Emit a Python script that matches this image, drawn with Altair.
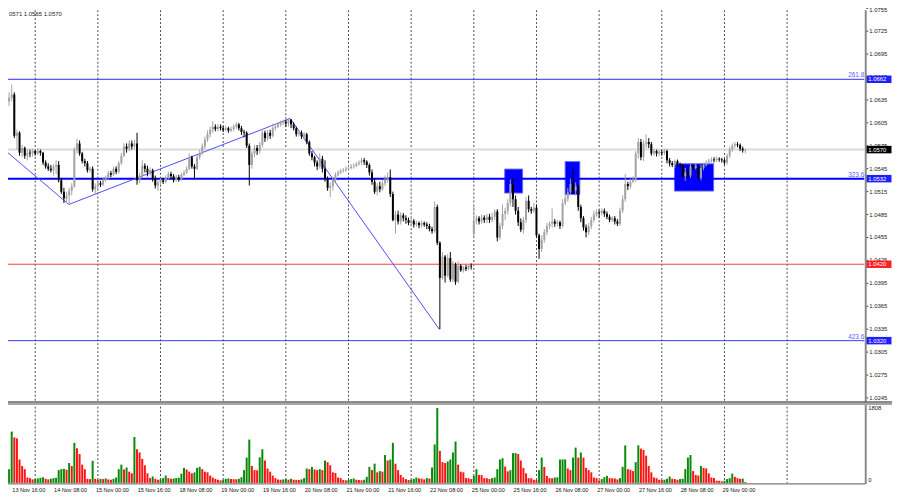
import altair as alt
import pandas as pd

# ---------------- data (EURUSD H1). prices in pips above 1.0000: (open, high, low, close)
DAYS = ["13 Nov", "14 Nov", "15 Nov", "18 Nov", "19 Nov", "20 Nov", "21 Nov",
        "22 Nov", "25 Nov", "26 Nov", "27 Nov", "28 Nov", "29 Nov"]
FIRST_HOUR = [13, 0, 0, 0, 0, 0, 0, 0, 0, 0, 0, 0, 0]

NOV13 = [(616,640,612,633),(633,645,627,638),(638,655,633,642),(642,645,585,588),(588,596,570,592),
         (592,594,562,566),(566,576,560,572),(572,574,558,562),(562,570,556,566),(566,570,560,565),
         (565,571,561,568)]
NOV14 = [(568,570,562,565),(565,572,563,568),(568,570,562,566),(566,567,550,553),(553,556,545,548),
         (548,552,542,545),(545,550,540,543),(543,551,536,548),(548,556,538,550),(550,555,527,530),
         (530,533,512,515),(515,520,500,506),(506,515,500,510),(510,520,498,516),(516,526,510,522),
         (522,573,520,570),(570,584,565,578),(578,582,562,565),(565,567,552,555),(555,558,548,552),
         (552,555,540,543),(543,548,540,545),(545,548,515,518),(518,526,512,522)]
NOV15 = [(522,529,518,526),(526,529,521,524),(524,533,522,530),(530,536,528,533),(533,542,531,539),
         (539,542,534,537),(537,548,535,545),(545,548,538,541),(541,555,539,552),(552,566,550,562),
         (562,578,560,574),(574,578,566,571),(571,582,568,578),(578,582,570,574),(574,583,571,578),
         (578,592,524,530),(530,540,526,536),(536,556,533,549),(549,552,540,545),(545,549,535,540),
         (540,547,536,543),(543,545,528,532),(532,536,519,523),(523,530,516,527)]
NOV18 = [(527,533,524,530),(530,533,525,528),(528,536,526,533),(533,541,531,538),(538,541,532,535),
         (535,538,527,530),(530,537,528,534),(534,537,528,531),(531,540,529,537),(537,543,535,540),
         (540,548,538,545),(545,565,543,560),(560,562,545,548),(548,551,531,545),(545,563,543,560),
         (560,570,557,566),(566,578,563,574),(574,587,571,583),(583,595,580,590),(590,600,586,596),
         (596,607,592,600),(600,603,594,597),(597,603,594,600),(600,603,595,598)]
NOV19 = [(598,601,593,596),(596,601,594,598),(598,600,592,595),(595,600,593,597),(597,603,594,600),
         (600,606,597,603),(603,605,595,598),(598,601,589,593),(593,596,586,592),(592,594,572,575),
         (575,578,523,550),(550,568,545,565),(565,576,560,572),(572,576,563,568),(568,580,565,576),
         (576,597,573,592),(592,595,580,585),(585,596,582,592),(592,596,584,588),(588,604,586,598),
         (598,603,595,600),(600,606,598,603),(603,608,600,605),(605,609,602,606)]
NOV20 = [(606,609,600,604),(604,611,600,609),(609,610,598,603),(603,606,595,598),(598,600,587,590),
         (590,595,587,592),(592,595,584,587),(587,593,582,590),(590,592,577,580),(580,582,562,565),
         (565,568,556,560),(560,562,548,553),(553,556,543,548),(548,565,545,558),(558,562,540,545),
         (545,556,528,532),(532,535,516,520),(520,527,508,522),(522,534,516,530),(530,540,527,537),
         (537,543,535,540),(540,545,538,542),(542,546,540,543),(543,548,541,545)]
NOV21 = [(545,549,542,546),(546,551,544,548),(548,552,545,549),(549,554,547,551),(551,556,549,553),
         (553,559,550,556),(556,559,550,554),(554,556,546,550),(550,552,536,540),(540,544,524,528),
         (528,532,512,515),(515,526,510,522),(522,528,514,518),(518,530,516,526),(526,536,522,530),
         (530,540,527,534),(534,544,508,512),(512,515,476,478),(478,490,460,485),(485,490,472,476),
         (476,488,472,484),(484,487,476,480),(480,484,473,478),(478,481,471,474)]
NOV22 = [(474,480,470,477),(477,479,468,472),(472,477,469,474),(474,476,467,471),(471,477,468,474),
         (474,476,469,472),(472,475,466,470),(470,473,463,466),(466,469,460,463),(463,502,461,495),
         (495,498,445,448),(448,450,335,402),(402,436,400,430),(430,432,396,405),(405,433,403,428),
         (428,436,397,400),(400,424,396,420),(420,422,393,397),(397,424,395,418),(418,420,410,412),
         (412,418,409,416),(416,419,411,414),(414,420,412,418),(418,421,413,417)]
NOV25 = [(460,497,456,477),(477,484,472,480),(480,483,472,476),(476,485,473,481),(481,484,474,478),
         (478,486,474,482),(482,486,474,478),(478,487,475,482),(482,492,478,489),(489,492,450,455),
         (455,474,452,470),(470,498,466,486),(486,494,478,490),(490,505,485,500),(500,531,496,525),
         (525,532,495,505),(505,510,485,490),(490,495,470,475),(475,480,462,465),(465,482,460,478),
         (478,508,474,503),(503,510,488,492),(492,495,486,490),(490,500,487,494)]
NOV26 = [(494,498,455,458),(458,460,427,440),(440,458,436,452),(452,466,448,462),(462,474,458,470),
         (470,476,466,473),(473,493,468,476),(476,479,469,473),(473,478,469,475),(475,477,466,470),
         (470,505,468,500),(500,512,497,506),(506,520,502,515),(515,532,510,525),(525,545,512,516),
         (516,527,510,522),(522,525,490,495),(495,498,475,480),(480,483,464,468),(468,472,455,462),
         (462,474,458,470),(470,482,466,478),(478,490,475,485),(485,492,482,488)]
NOV27 = [(488,491,481,487),(487,493,484,490),(490,493,482,486),(486,489,479,482),(482,485,475,478),
         (478,483,475,480),(480,483,472,476),(476,479,470,473),(473,494,470,490),(490,510,487,505),
         (505,538,502,525),(525,528,517,522),(522,532,519,528),(528,535,526,531),(531,568,528,565),
         (565,585,558,580),(580,584,556,560),(560,582,555,578),(578,590,572,580),(580,585,572,577),
         (577,580,562,565),(565,571,562,568),(568,570,561,565),(565,570,562,567)]
NOV28 = [(567,570,562,566),(566,571,563,568),(568,570,552,556),(556,559,548,552),(552,555,547,550),
         (550,557,546,555),(555,557,548,551),(551,553,546,549),(549,551,532,535),(535,546,529,540),
         (540,548,533,536),(536,551,533,548),(548,551,543,546),(546,552,544,549),(549,551,530,533),
         (533,550,530,546),(546,553,543,550),(550,556,548,553),(553,558,551,555),(555,560,553,557),
         (557,560,553,556),(556,561,554,558),(558,560,554,557),(557,559,553,556)]
NOV29 = [(556,558,550,553),(553,565,550,562),(562,574,559,570),(570,578,567,575),(575,580,572,577),
         (577,580,573,576),(576,578,568,571),(571,574,566,569),(569,571,565,570)]

# tick volumes per hour
V13 = [232, 332, 1237, 1098, 1074, 564, 410, 332, 131, 116, 85]
V14 = [93, 108, 124, 139, 100, 85, 100, 116, 124, 309, 332, 340, 317, 479, 410, 966, 835, 696, 441, 332, 100, 93, 533, 100]
V15 = [77, 100, 93, 108, 85, 77, 100, 131, 332, 441, 325, 372, 271, 232, 1105, 812, 734, 580, 425, 232, 116, 155, 100, 77]
V18 = [85, 116, 178, 116, 100, 108, 116, 124, 224, 363, 325, 271, 232, 255, 363, 387, 332, 271, 255, 178, 131, 100, 77, 62]
V19 = [77, 100, 108, 93, 90, 88, 100, 139, 309, 611, 1044, 410, 309, 305, 618, 812, 541, 348, 271, 178, 116, 85, 77, 85]
V20 = [90, 77, 100, 77, 75, 72, 85, 116, 348, 332, 387, 325, 309, 332, 309, 541, 502, 425, 255, 240, 131, 116, 70, 62]
V21 = [70, 93, 108, 77, 70, 62, 77, 147, 387, 309, 464, 255, 286, 271, 672, 541, 564, 966, 464, 309, 193, 131, 93, 70]
V22 = [77, 100, 131, 108, 105, 85, 116, 108, 371, 928, 1808, 773, 502, 480, 518, 564, 734, 997, 441, 271, 255, 116, 112, 93]
V25 = [170, 332, 193, 190, 116, 112, 93, 116, 131, 332, 564, 595, 394, 278, 309, 719, 720, 696, 541, 363, 232, 116, 112, 77]
V26 = [70, 309, 611, 387, 170, 116, 112, 131, 135, 564, 566, 568, 348, 309, 611, 850, 611, 734, 611, 363, 309, 255, 131, 116]
V27 = [62, 93, 139, 170, 116, 112, 108, 85, 116, 387, 904, 332, 317, 286, 502, 905, 827, 796, 657, 410, 255, 131, 116, 77]
V28 = [70, 77, 100, 155, 100, 93, 77, 93, 100, 332, 611, 672, 286, 193, 178, 410, 363, 348, 232, 131, 116, 54, 52, 39]
V29 = [54, 93, 116, 224, 147, 116, 100, 104, 23]

CANDLES = [NOV13, NOV14, NOV15, NOV18, NOV19, NOV20, NOV21, NOV22, NOV25, NOV26, NOV27, NOV28, NOV29]
VOLUMES = [V13, V14, V15, V18, V19, V20, V21, V22, V25, V26, V27, V28, V29]

# horizontal levels and fibo labels
LEVELS = [1.0662, 1.0532, 1.0420, 1.0320]
FIBO_TEXT = ["261.8", "323.6", "423.6"]
FIBO_PRICE = [1.0662, 1.0532, 1.0320]
BID = 1.0570
# zigzag (bar index, price)
ZZ_BAR = [12.48, 36.87, 121.66, 178.8]
ZZ_PRICE = [1.0569, 1.04982, 1.06107, 1.03348]
# blue rectangles (bar0, bar1, price0, price1)
RECT_B0 = [203.83, 226.98, 268.85]
RECT_B1 = [210.70, 232.60, 283.86]
RECT_P0 = [1.05131, 1.05112, 1.05157]
RECT_P1 = [1.05445, 1.05543, 1.05514]
TOP_TICK = 1.0755
PRICE_TICKS = [1.0725, 1.0695, 1.0665, 1.0635, 1.0605, 1.0575, 1.0545, 1.0515, 1.0485,
               1.0455, 1.0425, 1.0395, 1.0365, 1.0335, 1.0305, 1.0275, 1.0245]
TIME_BARS = [16, 32, 48, 64, 80, 96, 112, 128, 144, 160, 176, 192, 208, 224, 240, 256, 272, 288]
TIME_TEXT = ["13 Nov 16:00", "14 Nov 08:00", "15 Nov 00:00", "15 Nov 16:00", "18 Nov 08:00",
             "19 Nov 00:00", "19 Nov 16:00", "20 Nov 08:00", "21 Nov 00:00", "21 Nov 16:00",
             "22 Nov 08:00", "25 Nov 00:00", "25 Nov 16:00", "26 Nov 08:00", "27 Nov 00:00",
             "27 Nov 16:00", "28 Nov 08:00", "29 Nov 00:00"]
DAY_LINES = [24, 48, 72, 96, 120, 144, 168, 192, 216, 240, 264, 288, 312]
BOX_PRICE = [1.0662, 1.0570, 1.0532, 1.0420, 1.0320]
BOX_TEXT = ["1.0662", "1.0570", "1.0532", "1.0420", "1.0320"]
BOX_COLOR = ["#1f1fff", "#000000", "#1f1fff", "#ff2020", "#1f1fff"]
HEADER = "0571 1.0565 1.0570"
VOL_MAX = 1808

# ---------------- build tables
rows = []
for d, (h0, cs, vs) in enumerate(zip(FIRST_HOUR, CANDLES, VOLUMES)):
    assert len(cs) == len(vs), (DAYS[d], len(cs), len(vs))
    for k, ((o, hi, lo, c), v) in enumerate(zip(cs, vs)):
        rows.append(dict(bar=d * 24 + h0 + k, open=1 + o / 1e4, high=1 + hi / 1e4,
                         low=1 + lo / 1e4, close=1 + c / 1e4, vol=v))
df = pd.DataFrame(rows)
df["vup"] = (df["vol"] > df["vol"].shift(1)).astype(int)

W, H = 864, 477
XS = alt.Scale(domain=[15.48, 339.65], nice=False, zero=False)
PS = alt.Scale(domain=[1.013381, 1.07524], nice=False, zero=False)
VS = alt.Scale(domain=[0, VOL_MAX * H / 75.7], nice=False, zero=False)
FONT = "Liberation Sans"
one = pd.DataFrame({"a": [0]})

xb = alt.X("bar:Q", scale=XS, axis=None)

grid = alt.Chart(pd.DataFrame({"bar": DAY_LINES})).mark_rule(
    color="#4a4a4a", strokeDash=[2, 2], strokeWidth=1).encode(
    x=xb, y=alt.value(0), y2=alt.value(H))

lv = pd.DataFrame({"p": LEVELS, "c": ["#2a2aff", "#0000ff", "#ff3b3b", "#3b3bff"],
                   "w": [1, 2, 1, 1]})
levels = alt.Chart(lv).mark_rule().encode(
    x=alt.value(0), x2=alt.value(W),
    y=alt.Y("p:Q", scale=PS, axis=None),
    color=alt.Color("c:N", scale=None),
    strokeWidth=alt.StrokeWidth("w:Q", scale=None))

bid = alt.Chart(pd.DataFrame({"p": [BID]})).mark_rule(color="#dadada", strokeWidth=2).encode(
    x=alt.value(0), x2=alt.value(W), y=alt.Y("p:Q", scale=PS, axis=None))

rects = alt.Chart(pd.DataFrame({"b0": RECT_B0, "b1": RECT_B1, "p0": RECT_P0, "p1": RECT_P1})).mark_rect(
    color="#0000ff", stroke="#6a6aff", strokeWidth=1).encode(
    x=alt.X("b0:Q", scale=XS, axis=None), x2="b1:Q",
    y=alt.Y("p0:Q", scale=PS, axis=None), y2="p1:Q")

zz = alt.Chart(pd.DataFrame({"bar": ZZ_BAR, "p": ZZ_PRICE, "o": range(len(ZZ_BAR))})).mark_line(
    color="#4b4bff", strokeWidth=1, clip=True).encode(
    x=xb, y=alt.Y("p:Q", scale=PS, axis=None), order="o:Q")

candle_color = alt.condition("datum.close >= datum.open", alt.value("#a3a3a3"), alt.value("#000000"))
wicks = alt.Chart(df).mark_rule(strokeWidth=1, clip=True).encode(
    x=xb, y=alt.Y("low:Q", scale=PS, axis=None), y2="high:Q", color=candle_color)
bodies = alt.Chart(df).mark_bar(size=2, clip=True).encode(
    x=xb, y=alt.Y("open:Q", scale=PS, axis=None), y2="close:Q", color=candle_color)

fibo = alt.Chart(pd.DataFrame({"t": FIBO_TEXT, "p": FIBO_PRICE})).mark_text(
    align="right", baseline="bottom", dy=-1, font=FONT, fontSize=6.5, color="#5a5aff").encode(
    x=alt.value(W), y=alt.Y("p:Q", scale=PS, axis=None), text="t:N")

all_ticks = [TOP_TICK] + PRICE_TICKS
ticks = alt.Chart(pd.DataFrame({"p": all_ticks})).mark_rule(color="#333333").encode(
    x=alt.value(W + 2), x2=alt.value(W + 4), y=alt.Y("p:Q", scale=PS, axis=None))
tick_labels = alt.Chart(pd.DataFrame({"p": PRICE_TICKS, "t": [f"{v:.4f}" for v in PRICE_TICKS]})).mark_text(
    align="left", baseline="middle", font=FONT, fontSize=6, color="#222222").encode(
    x=alt.value(W + 5), y=alt.Y("p:Q", scale=PS, axis=None), text="t:N")
top_label = alt.Chart(pd.DataFrame({"p": [TOP_TICK], "t": [f"{TOP_TICK:.4f}"]})).mark_text(
    align="left", baseline="top", dy=-1, font=FONT, fontSize=6, color="#222222").encode(
    x=alt.value(W + 5), y=alt.Y("p:Q", scale=PS, axis=None), text="t:N")

box_shape = "M-1,-0.29L1,-0.29L1,0.29L-1,0.29Z"
boxes = alt.Chart(pd.DataFrame({"p": BOX_PRICE, "c": BOX_COLOR})).mark_point(
    shape=box_shape, size=26 * 26, filled=True, opacity=1, strokeWidth=0).encode(
    x=alt.value(W + 14.5), y=alt.Y("p:Q", scale=PS, axis=None), color=alt.Color("c:N", scale=None))
box_text = alt.Chart(pd.DataFrame({"p": BOX_PRICE, "t": BOX_TEXT})).mark_text(
    align="left", baseline="middle", font=FONT, fontSize=6, color="#ffffff").encode(
    x=alt.value(W + 4), y=alt.Y("p:Q", scale=PS, axis=None), text="t:N")

axis_line = alt.Chart(one).mark_rule(color="#8a8a8a", strokeWidth=2).encode(
    x=alt.value(W + 1.5), y=alt.value(0), y2=alt.value(H + 1))
sep = alt.Chart(one).mark_rect(color="#a6a6a6").encode(
    x=alt.value(0), x2=alt.value(W + 28), y=alt.value(395.2), y2=alt.value(398.4))
sep_line = alt.Chart(one).mark_rule(color="#555555", strokeWidth=1).encode(
    x=alt.value(0), x2=alt.value(W + 28), y=alt.value(395.2))
bottom_line = alt.Chart(one).mark_rule(color="#555555", strokeWidth=1).encode(
    x=alt.value(0), x2=alt.value(W + 1), y=alt.value(H + 1))

header = alt.Chart(pd.DataFrame({"t": [HEADER]})).mark_text(
    align="left", baseline="top", font=FONT, fontSize=6, color="#222222").encode(
    x=alt.value(1), y=alt.value(1), text="t:N")

time_labels = alt.Chart(pd.DataFrame({"bar": TIME_BARS, "t": TIME_TEXT})).mark_text(
    align="left", baseline="middle", dx=-2, font=FONT, fontSize=5.6, color="#111111").encode(
    x=xb, y=alt.value(H + 7.5), text="t:N")

vol_labels = alt.Chart(pd.DataFrame({"t": [str(VOL_MAX), "0"], "y": [401.3, 473.7]})).mark_text(
    align="left", baseline="middle", font=FONT, fontSize=6, color="#222222").encode(
    x=alt.value(W + 4), y=alt.Y("y:Q", scale=None), text="t:N")

price_layer = alt.layer(grid, bid, rects, levels, zz, wicks, bodies, fibo, ticks, tick_labels,
                        top_label, boxes, box_text, axis_line, sep, sep_line, bottom_line, header,
                        time_labels, vol_labels)

vol_layer = alt.Chart(df).mark_bar(size=2, clip=True).encode(
    x=xb, y=alt.Y("vol:Q", scale=VS, axis=None), y2=alt.value(H),
    color=alt.condition("datum.vup == 1", alt.value("#0a8a0a"), alt.value("#ff1414")))

chart = alt.layer(price_layer, vol_layer).resolve_scale(y="independent").properties(
    width=W, height=H, autosize=alt.AutoSizeParams(type="none"),
    padding={"left": 0, "top": 0, "right": 28, "bottom": 15}, background="white"
).configure_view(stroke=None)

chart.save("out.html", embed_options={"renderer": "svg", "actions": False})
